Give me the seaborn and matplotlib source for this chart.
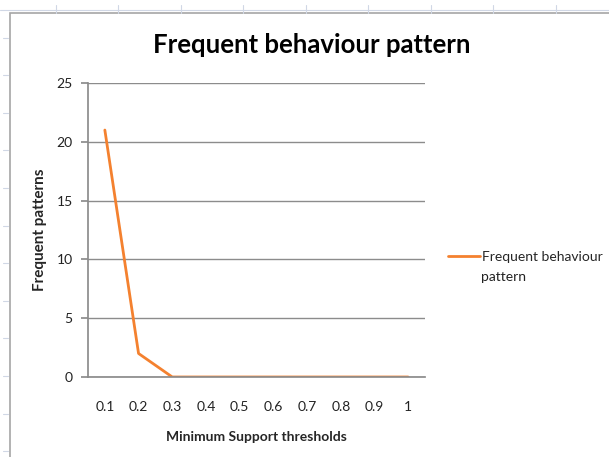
import matplotlib
matplotlib.use("Agg")
import matplotlib.pyplot as plt
import seaborn as sns
import pandas as pd
from matplotlib.lines import Line2D
from matplotlib.patches import Rectangle

thresholds = ["0.1", "0.2", "0.3", "0.4", "0.5", "0.6", "0.7", "0.8", "0.9", "1"]
patterns = [21, 2, 0, 0, 0, 0, 0, 0, 0, 0]
series_name = "Frequent behaviour pattern"
y_ticks = [0, 5, 10, 15, 20, 25]

sns.set_theme(style="white")
plt.rcParams['font.family'] = ['Lato', 'DejaVu Sans']

W, H = 609, 457
fig = plt.figure(figsize=(W / 100, H / 100), dpi=100)

# spreadsheet background lines
for x in [56, 118, 181, 243, 306, 368, 431, 493, 556]:
    fig.add_artist(Line2D([x / W, x / W], [1 - 5 / H, 1 - 13 / H], color="#d0d7e5", lw=0.8))
fig.add_artist(Line2D([0, 1], [1 - 10 / H, 1 - 10 / H], color="#d0d7e5", lw=0.8))
for y in [38, 75, 113, 150, 188, 226, 263, 301, 338, 376, 414, 451]:
    fig.add_artist(Line2D([3 / W, 8 / W], [1 - y / H, 1 - y / H], color="#d0d7e5", lw=0.8))
fig.add_artist(Rectangle((10 / W, -0.01), 1.0, 1 - 13 / H + 0.01, fill=False,
                         edgecolor="#a6a6a6", lw=1.2))

ax = fig.add_axes([88 / W, 1 - 377 / H, (425 - 88) / W, (377 - 83) / H])
df = pd.DataFrame({"threshold": thresholds, "patterns": patterns})
sns.lineplot(data=df, x="threshold", y="patterns", ax=ax, color="#F4812F",
             lw=2, label=series_name, sort=False)

ax.set_xlim(-0.5, len(thresholds) - 0.5)
ax.set_ylim(0, 25)
ax.set_yticks(y_ticks)
ax.yaxis.grid(True, color="#8c8c8c", lw=1)
ax.xaxis.grid(False)
for s in ["top", "right"]:
    ax.spines[s].set_visible(False)
ax.spines["left"].set_color("#8c8c8c")
ax.spines["bottom"].set_color("#8c8c8c")
ax.tick_params(axis="y", left=True, length=5, color="#8c8c8c", labelsize=10, pad=6, labelcolor="#222222")
ax.tick_params(axis="x", bottom=False, labelsize=10, pad=11, labelcolor="#222222")
ax.set_xlabel("Minimum Support thresholds", fontsize=10, fontweight="bold")
ax.set_ylabel("Frequent patterns", fontsize=11, fontweight="bold")
ax.xaxis.set_label_coords((256 - 88) / 337, (377 - 437) / 294)
ax.yaxis.set_label_coords((40 - 88) / 337, 0.5)
ax.xaxis.label.set_va("center")
ax.yaxis.label.set_va("center")
fig.text(312 / W, 1 - 45 / H, "Frequent behaviour pattern", fontsize=18.5,
         fontweight="bold", ha="center", va="center", color="#000000")

leg = ax.legend(loc="center left", bbox_to_anchor=((448 - 88) / 337, (377 - 257) / 294),
                frameon=False, fontsize=10, handlelength=2.3, handletextpad=0.15,
                borderaxespad=0, borderpad=0)
leg.get_texts()[0].set_text("Frequent behaviour")
fig.text(481 / W, 1 - 277 / H, "pattern", fontsize=10, ha="left", va="center", color="#222222")

fig.savefig("out.png", dpi=100)
